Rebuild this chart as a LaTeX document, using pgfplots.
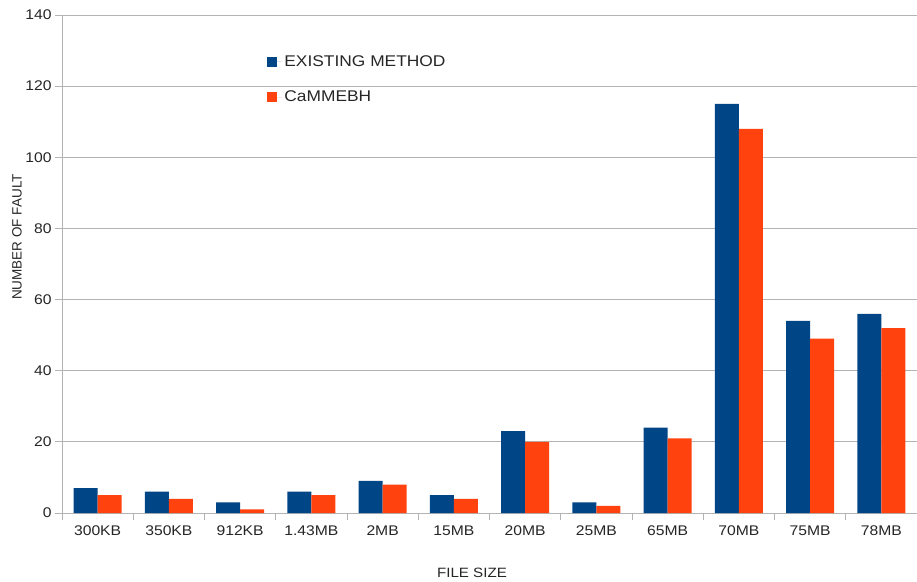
\documentclass[border=0pt]{standalone}
\usepackage{pgfplots}
\usepackage{pgfplotstable}
\pgfplotsset{compat=1.18}
\usepackage{fontspec}
\setmainfont{Liberation Sans}[FakeStretch=1.12]
\newfontfamily\plainsans{Liberation Sans}

\definecolor{serA}{HTML}{004586}
\definecolor{serB}{HTML}{FF420E}
\definecolor{gridgray}{HTML}{B3B3B3}

% number of faults per file size
\pgfplotstableread{
idx existing cammebh
0   7    5
1   6    4
2   3    1
3   6    5
4   9    8
5   5    4
6   23   20
7   3    2
8   24   21
9   115  108
10  54   49
11  56   52
}\faults

\begin{document}
\begin{tikzpicture}
\begin{axis}[
  scale only axis, width=855bp, height=498bp,
  ybar=0pt, bar width=24bp,
  xmin=-0.5, xmax=11.5, ymin=0, ymax=140,
  ytick={0,20,...,140},
  xtick={0,...,11},
  xticklabels={300KB,350KB,912KB,1.43MB,2MB,15MB,20MB,25MB,65MB,70MB,75MB,78MB},
  minor xtick={-0.5,0.5,...,11.5},
  major x tick style={draw=none},
  tick align=outside,
  major tick length=7bp, minor tick length=7bp,
  ymajorgrids, grid style={gridgray, line width=0.8bp},
  axis x line*=bottom, axis y line*=left,
  axis line style={gridgray, line width=0.8bp, -},
  tick style={gridgray, line width=0.8bp},
  /pgf/number format/assume math mode=true,
  tick label style={font=\fontsize{14bp}{16bp}\selectfont, text=black!85},
  xticklabel style={yshift=-2bp},
  xlabel={FILE SIZE},
  ylabel={NUMBER OF FAULT},
  xlabel style={font=\fontsize{13.5bp}{15bp}\selectfont, text=black!85,
    at={(axis description cs:0.4795,-0.1205)}, anchor=center},
  ylabel style={font=\plainsans\fontsize{13.5bp}{15bp}\selectfont, text=black!85,
    at={(axis description cs:-0.0526,0.554)}, anchor=center},
  legend cell align=left,
  legend style={at={(axis description cs:0.24,0.923)}, anchor=north west,
    draw=none, fill=none, inner sep=0pt, row sep=19bp,
    font=\fontsize{15.5bp}{17bp}\selectfont, text=black!85,
    nodes={inner sep=2bp}},
]
\addplot[fill=serA, draw=none,
  legend image code/.code={\fill[serA] (0bp,-5bp) rectangle (10bp,5bp);
    \path (0bp,0bp) -- (15bp,0bp);}]
  table[x=idx, y=existing] {\faults};
\addlegendentry{EXISTING METHOD}
\addplot[fill=serB, draw=none,
  legend image code/.code={\fill[serB] (0bp,-5bp) rectangle (10bp,5bp);
    \path (0bp,0bp) -- (15bp,0bp);}]
  table[x=idx, y=cammebh] {\faults};
\addlegendentry{CaMMEBH}
\end{axis}
\pgfresetboundingbox
\path[use as bounding box] ([xshift=-62bp,yshift=-69bp]current axis.south west)
  rectangle ([yshift=15bp]current axis.north east);
\end{tikzpicture}
\end{document}
